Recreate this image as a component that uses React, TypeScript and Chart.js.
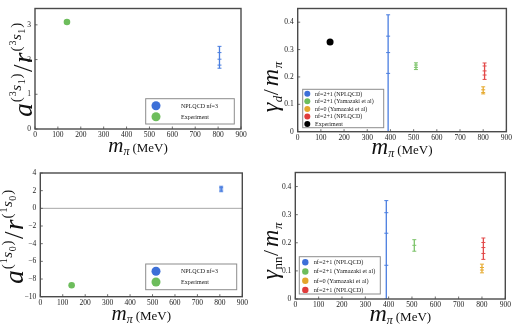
import React, { useEffect, useRef } from "react";
import { Chart, registerables } from "chart.js";
Chart.register(...registerables);

const FONT = "'Liberation Serif', 'Times New Roman', serif";
const W = 257;
const H = 164;

// ---------- data ----------
const xRange = [0, 900];
const xStep = 100;

// top-left: a(3S1)/r(3S1)
const tlYRange = [0, 3.47];
const tlYStep = 1;
const tlExpX = [139.6];
const tlExpY = [3.08];
const tlLatX = 806;
const tlLatY = [1.75, 1.84, 2.01, 2.2, 2.38];
const tlLegend = ["NPLQCD nf=3", "Experiment"];

// bottom-left: a(1S0)/r(1S0)
const blYRange = [-10, 4];
const blYStep = 2;
const blExpX = [139.6];
const blExpY = [-8.7];
const blLatX = 806;
const blLatY = [1.88, 2.05, 2.2, 2.35, 2.5];
const blLegend = ["NPLQCD nf=3", "Experiment"];

// top-right: gamma_d / m_pi
const trYRange = [0, 0.45];
const trYStep = 0.1;
const trExpX = [139.6];
const trExpY = [0.328];
const trBlueX = 390;
const trBlueY = [0, 0.213, 0.289, 0.349, 0.427];
const trGreenX = 510;
const trGreenY = [0.227, 0.235, 0.2435, 0.2516];
const trOrangeX = 800;
const trOrangeY = [0.138, 0.143, 0.153, 0.164];
const trRedX = 806;
const trRedY = [0.191, 0.207, 0.222, 0.24, 0.251];
const trLegend = [
  "nf=2+1 (NPLQCD)",
  "nf=2+1 (Yamazaki et al)",
  "nf=0 (Yamazaki et al)",
  "nf=2+1 (NPLQCD)",
  "Experiment",
];

// bottom-right: gamma_nn / m_pi
const brYRange = [0, 0.45];
const brYStep = 0.1;
const brBlueX = 390;
const brBlueY = [0, 0.12, 0.234, 0.307, 0.35];
const brGreenX = 510;
const brGreenY = [0.17, 0.191, 0.211];
const brOrangeX = 800;
const brOrangeY = [0.093, 0.103, 0.112, 0.124];
const brRedX = 806;
const brRedY = [0.141, 0.162, 0.183, 0.201, 0.217];
const brLegend = [
  "nf=2+1 (NPLQCD)",
  "nf=2+1 (Yamazaki et al)",
  "nf=0 (Yamazaki et al)",
  "nf=2+1 (NPLQCD)",
];

// ---------- styles ----------
const BLUE = "#3d70d8";
const GREEN = "#6dbd5c";
const ORANGE = "#e3a62c";
const RED = "#e03c3c";
const BLACK = "#000000";
const BAR_BLUE = "#4a7ee0";
const BAR_GREEN = "#7cc36a";
const BAR_ORANGE = "#e6aa30";
const BAR_RED = "#e24a4a";

type Seg = { t: string; s: number; i?: boolean; dy?: number; g?: number };

function fontOf(sg: Seg) {
  return `${sg.i ? "italic " : ""}${sg.s}px ${FONT}`;
}

function drawRich(ctx: CanvasRenderingContext2D, segs: Seg[], cx: number, baseY: number) {
  let total = 0;
  const ws = segs.map((sg) => {
    ctx.font = fontOf(sg);
    const w = ctx.measureText(sg.t).width + (sg.g || 0);
    total += w;
    return w;
  });
  let x = cx - total / 2;
  ctx.textAlign = "left";
  ctx.textBaseline = "alphabetic";
  segs.forEach((sg, k) => {
    ctx.font = fontOf(sg);
    ctx.fillText(sg.t, x, baseY + (sg.dy || 0));
    x += ws[k];
  });
}

const supGroup = (a: string, b: string): Seg[] => [
  { t: "(", s: 15, dy: -11, g: 1 },
  { t: a, s: 10, dy: -16, g: 0.5 },
  { t: "s", s: 15, i: true, dy: -11, g: 0.5 },
  { t: b, s: 10, dy: -7, g: 0.8 },
  { t: ")", s: 15, dy: -11, g: 1.5 },
];

const aOverR = (a: string, b: string): Seg[] => [
  { t: "a", s: 27, i: true, g: 1 },
  ...supGroup(a, b),
  { t: "/", s: 27, g: 1.5 },
  { t: "r", s: 27, i: true, g: 1 },
  ...supGroup(a, b),
];

const gammaOverM = (sub: string): Seg[] => [
  { t: "γ", s: 24, i: true, g: 0.5 },
  { t: sub, s: 13, i: sub === "d", dy: 4, g: 0.5 },
  { t: "/", s: 22, g: 3 },
  { t: "m", s: 24, i: true, g: 0.5 },
  { t: "π", s: 13, i: true, dy: 4 },
];

const mPi = (ms: number): Seg[] => [
  { t: "m", s: ms, i: true },
  { t: "π", s: 12, i: true, dy: 3, g: 3 },
  { t: "(MeV)", s: 13 },
];

interface Bar { x: number; y: number[]; color: string }
interface Pts { x: number[]; y: number[]; color: string; r: number }
interface LegendSpec {
  anchor: "left" | "right";
  dx: number;
  dyFromBottom: number;
  w: number;
  h: number;
  cx: number;
  tx: number;
  row0: number;
  step: number;
  r: number;
  font: number;
  labels: string[];
  colors: string[];
}
interface Spec {
  area: { l: number; t: number; r: number; b: number };
  yRange: number[];
  yStep: number;
  bars: Bar[];
  points: Pts[];
  legend: LegendSpec;
  xTitle: Seg[];
  xTitleDy: number;
  yTitle: Seg[];
  yTitleX: number;
  yTitleY: number;
  zeroLine?: boolean;
}

const fmt = (v: number | string) => String(+Number(v).toFixed(2)).replace("-", "\u2212");

function buildConfig(spec: Spec): any {
  const a = spec.area;
  const datasets: any[] = [
    ...spec.bars.map((b) => ({
      type: "scatter",
      data: b.y.map((y) => ({ x: b.x, y })),
      showLine: true,
      borderColor: b.color,
      backgroundColor: b.color,
      borderWidth: 1.3,
      pointStyle: "line",
      pointRadius: 2,
      pointBorderWidth: 1,
      pointBorderColor: b.color,
    })),
    ...spec.points.map((p) => ({
      type: "scatter",
      data: p.x.map((x, k) => ({ x, y: p.y[k] })),
      pointRadius: p.r,
      backgroundColor: p.color,
      borderWidth: 0,
      pointBorderWidth: 0,
    })),
  ];
  const plugin = {
    id: "decor",
    beforeDatasetsDraw(chart: any) {
      if (!spec.zeroLine) return;
      const { ctx, chartArea: ca, scales } = chart;
      const py = scales.y.getPixelForValue(0);
      ctx.save();
      ctx.strokeStyle = "#a8a8a8";
      ctx.lineWidth = 1;
      ctx.beginPath();
      ctx.moveTo(ca.left, py);
      ctx.lineTo(ca.right, py);
      ctx.stroke();
      ctx.restore();
    },
    afterDraw(chart: any) {
      const { ctx, chartArea: ca, scales } = chart;
      ctx.save();
      // frame
      ctx.strokeStyle = "#4a4a4a";
      ctx.lineWidth = 1.4;
      ctx.strokeRect(ca.left, ca.top, ca.right - ca.left, ca.bottom - ca.top);
      // inward ticks
      ctx.lineWidth = 0.8;
      ctx.beginPath();
      scales.x.ticks.forEach((t: any) => {
        const px = scales.x.getPixelForValue(t.value);
        ctx.moveTo(px, ca.bottom);
        ctx.lineTo(px, ca.bottom - 2.5);
      });
      scales.y.ticks.forEach((t: any) => {
        const py = scales.y.getPixelForValue(t.value);
        ctx.moveTo(ca.left, py);
        ctx.lineTo(ca.left + 2.5, py);
      });
      ctx.stroke();
      // legend
      const L = spec.legend;
      const bx = L.anchor === "left" ? ca.left + L.dx : ca.right + L.dx;
      const by = ca.bottom + L.dyFromBottom;
      ctx.fillStyle = "#ffffff";
      ctx.fillRect(bx, by, L.w, L.h);
      ctx.strokeStyle = "#8c8c8c";
      ctx.lineWidth = 1;
      ctx.strokeRect(bx, by, L.w, L.h);
      L.labels.forEach((lab, k) => {
        const ry = by + L.row0 + k * L.step;
        ctx.fillStyle = L.colors[k];
        ctx.beginPath();
        ctx.arc(bx + L.cx, ry, L.r, 0, Math.PI * 2);
        ctx.fill();
        ctx.fillStyle = "#222";
        ctx.font = `${L.font}px ${FONT}`;
        ctx.textAlign = "left";
        ctx.textBaseline = "middle";
        ctx.fillText(lab, bx + L.tx, ry + 0.3);
      });
      // titles
      ctx.fillStyle = "#111";
      drawRich(ctx, spec.xTitle, (ca.left + ca.right) / 2, ca.bottom + spec.xTitleDy);
      ctx.save();
      ctx.translate(spec.yTitleX, spec.yTitleY);
      ctx.rotate(-Math.PI / 2);
      drawRich(ctx, spec.yTitle, 0, 0);
      ctx.restore();
      ctx.restore();
    },
  };
  return {
    type: "scatter",
    data: { datasets },
    plugins: [plugin],
    options: {
      responsive: false,
      animation: false,
      events: [],
      layout: { padding: { left: 0, top: a.t, right: W - a.r, bottom: 0 } },
      plugins: { legend: { display: false }, tooltip: { enabled: false } },
      scales: {
        x: {
          type: "linear",
          min: xRange[0],
          max: xRange[1],
          ticks: {
            stepSize: xStep,
            includeBounds: false,
            autoSkip: false,
            maxRotation: 0,
            padding: 2,
            color: "#222",
            font: { family: FONT, size: 7.5 },
          },
          grid: { display: false, drawTicks: false },
          border: { display: false },
          afterFit: (s: any) => {
            s.height = H - a.b;
          },
        },
        y: {
          type: "linear",
          min: spec.yRange[0],
          max: spec.yRange[1],
          ticks: {
            stepSize: spec.yStep,
            includeBounds: false,
            autoSkip: false,
            padding: 4,
            color: "#222",
            font: { family: FONT, size: 7.5 },
            callback: (v: any) => fmt(v),
          },
          grid: { display: false, drawTicks: false },
          border: { display: false },
          afterFit: (s: any) => {
            s.width = a.l;
          },
        },
      },
    },
  };
}

const tlSpec: Spec = {
  area: { l: 35, t: 3.3, r: 241, b: 129 },
  yRange: tlYRange,
  yStep: tlYStep,
  bars: [{ x: tlLatX, y: tlLatY, color: BAR_BLUE }],
  points: [{ x: tlExpX, y: tlExpY, color: GREEN, r: 3.3 }],
  legend: {
    anchor: "right", dx: -95.3, dyFromBottom: -30.3, w: 88.6, h: 25.3,
    cx: 10.3, tx: 35.3, row0: 7, step: 11, r: 4.5, font: 6,
    labels: tlLegend, colors: [BLUE, GREEN],
  },
  xTitle: mPi(21),
  xTitleDy: 22.7,
  yTitle: aOverR("3", "1"),
  yTitleX: 32,
  yTitleY: 69,
};

const blSpec: Spec = {
  area: { l: 40.3, t: 9, r: 242.3, b: 132.7 },
  yRange: blYRange,
  yStep: blYStep,
  bars: [{ x: blLatX, y: blLatY, color: BAR_BLUE }],
  points: [{ x: blExpX, y: blExpY, color: GREEN, r: 3.3 }],
  legend: {
    anchor: "right", dx: -96.6, dyFromBottom: -32.7, w: 91, h: 25.7,
    cx: 10.3, tx: 35.3, row0: 7.3, step: 10.7, r: 4.5, font: 6,
    labels: blLegend, colors: [BLUE, GREEN],
  },
  xTitle: mPi(21),
  xTitleDy: 23.3,
  yTitle: aOverR("1", "0"),
  yTitleX: 22.7,
  yTitleY: 72,
  zeroLine: true,
};

const trSpec: Spec = {
  area: { l: 40.7, t: 3.3, r: 250.7, b: 131.7 },
  yRange: trYRange,
  yStep: trYStep,
  bars: [
    { x: trBlueX, y: trBlueY, color: BAR_BLUE },
    { x: trGreenX, y: trGreenY, color: BAR_GREEN },
    { x: trOrangeX, y: trOrangeY, color: BAR_ORANGE },
    { x: trRedX, y: trRedY, color: BAR_RED },
  ],
  points: [{ x: trExpX, y: trExpY, color: BLACK, r: 3.5 }],
  legend: {
    anchor: "left", dx: 5, dyFromBottom: -42.4, w: 81, h: 38.4,
    cx: 4.6, tx: 12.3, row0: 4.4, step: 7.6, r: 3, font: 6,
    labels: trLegend, colors: [BLUE, GREEN, ORANGE, RED, BLACK],
  },
  xTitle: mPi(23),
  xTitleDy: 22.3,
  yTitle: gammaOverM("d"),
  yTitleX: 20.7,
  yTitleY: 87,
};

const brSpec: Spec = {
  area: { l: 38.3, t: 4.7, r: 248.3, b: 135 },
  yRange: brYRange,
  yStep: brYStep,
  bars: [
    { x: brBlueX, y: brBlueY, color: BAR_BLUE },
    { x: brGreenX, y: brGreenY, color: BAR_GREEN },
    { x: brOrangeX, y: brOrangeY, color: BAR_ORANGE },
    { x: brRedX, y: brRedY, color: BAR_RED },
  ],
  points: [],
  legend: {
    anchor: "left", dx: 4, dyFromBottom: -42.3, w: 81, h: 37.3,
    cx: 6, tx: 14.4, row0: 5.6, step: 9.2, r: 3.2, font: 6.3,
    labels: brLegend, colors: [BLUE, GREEN, ORANGE, RED],
  },
  xTitle: mPi(24),
  xTitleDy: 21.7,
  yTitle: gammaOverM("nn"),
  yTitleX: 20.5,
  yTitleY: 87,
};

function ChartBox({ spec, left, top }: { spec: Spec; left: number; top: number }) {
  const ref = useRef<HTMLCanvasElement>(null);
  useEffect(() => {
    const chart = new Chart(ref.current as HTMLCanvasElement, buildConfig(spec));
    return () => chart.destroy();
  }, [spec]);
  return (
    <canvas
      ref={ref}
      width={W}
      height={H}
      style={{ position: "absolute", left, top, width: W, height: H }}
    />
  );
}

export default function App() {
  return (
    <div style={{ position: "absolute", left: 0, top: 0, width: 514, height: 328, background: "#fff" }}>
      <ChartBox spec={tlSpec} left={0} top={0} />
      <ChartBox spec={trSpec} left={257} top={0} />
      <ChartBox spec={blSpec} left={0} top={164} />
      <ChartBox spec={brSpec} left={257} top={164} />
    </div>
  );
}
